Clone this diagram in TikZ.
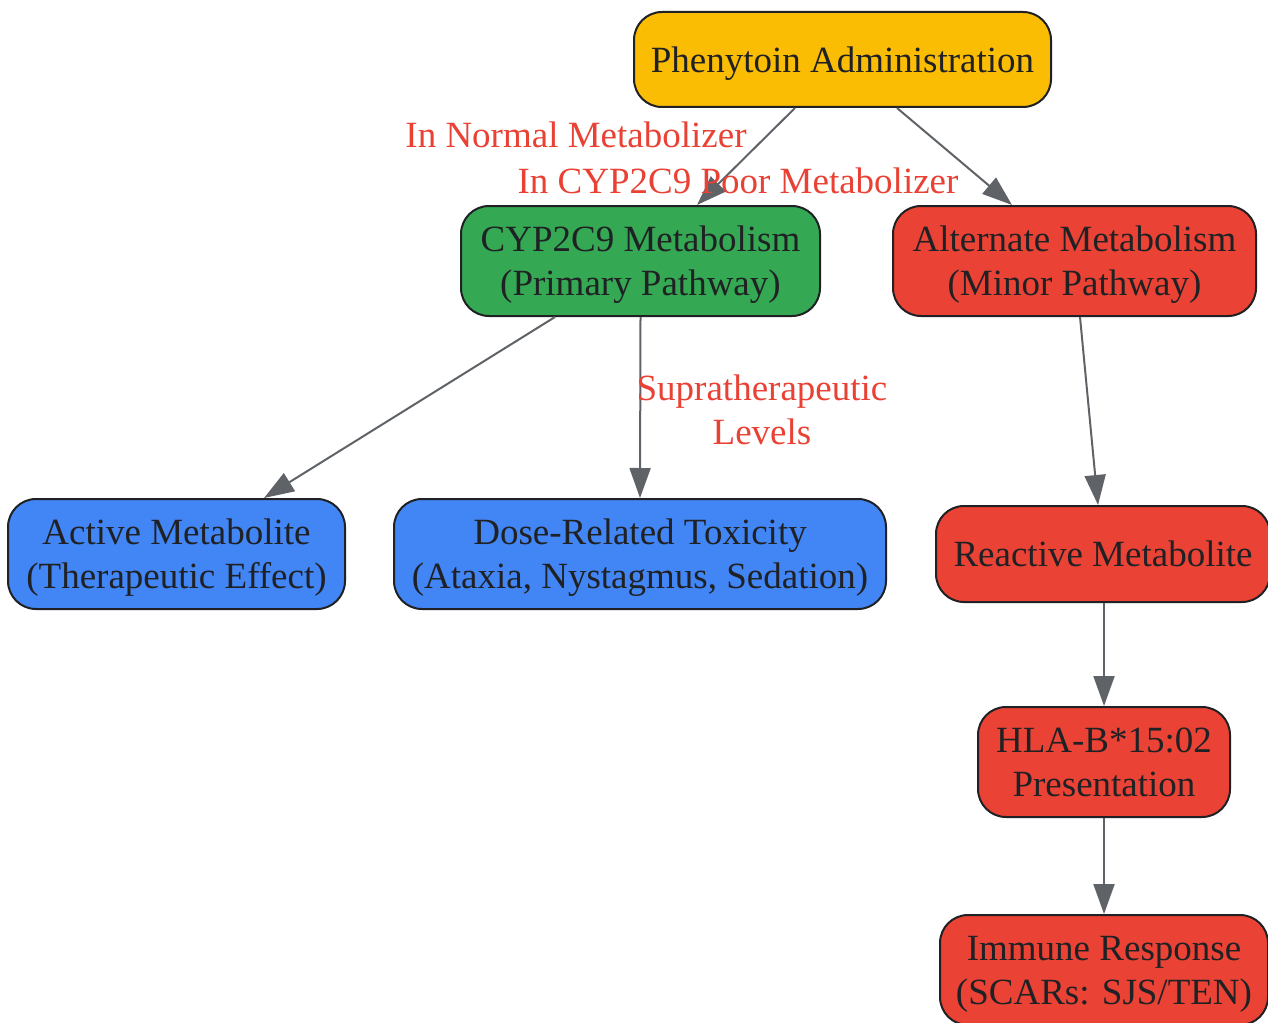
\documentclass[tikz,border=0pt]{standalone}
\usepackage{fontspec}
\setmainfont{Liberation Serif}
\usetikzlibrary{arrows.meta}
\definecolor{cyellow}{HTML}{FBBC04}
\definecolor{cgreen}{HTML}{34A853}
\definecolor{cred}{HTML}{EA4335}
\definecolor{cblue}{HTML}{4285F4}
\definecolor{cborder}{HTML}{202124}
\definecolor{carrow}{HTML}{5F6368}
\definecolor{clabel}{HTML}{E94235}
\tikzset{
  box/.style={draw=cborder, line width=2pt, rounded corners=28pt, align=center,
    text=cborder, font=\fontsize{37}{44}\selectfont, inner sep=0pt, text depth=-1pt},
  twoline/.style={box, text depth=-5pt},
  conn/.style={draw=carrow, line width=2pt, -{Triangle[length=30pt,width=21pt]}},
  elabel/.style={text=clabel, font=\fontsize{37}{44}\selectfont, align=center, inner sep=0pt}
}
\begin{document}
\begin{tikzpicture}[x=1pt,y=-1pt]
\useasboundingbox (0,0) rectangle (1268,1022);
\node[box, fill=cyellow, minimum width=417pt, minimum height=95pt] (phen) at (842.5,59.5) {Phenytoin Administration};
\node[twoline, fill=cgreen, minimum width=359pt, minimum height=110pt] (cyp) at (640.5,261) {CYP2C9 Metabolism\\(Primary Pathway)};
\node[twoline, fill=cred, minimum width=363pt, minimum height=110pt] (alt) at (1074.5,261) {Alternate Metabolism\\(Minor Pathway)};
\node[twoline, fill=cblue, minimum width=337pt, minimum height=110pt] (act) at (176.5,554) {Active Metabolite\\(Therapeutic Effect)};
\node[twoline, fill=cblue, minimum width=492pt, minimum height=110pt] (dose) at (640,554) {Dose-Related Toxicity\\(Ataxia, Nystagmus, Sedation)};
\node[box, fill=cred, minimum width=334pt, minimum height=96pt] (react) at (1103,554) {Reactive Metabolite};
\node[twoline, fill=cred, minimum width=252pt, minimum height=110pt] (hla) at (1104,762) {HLA-B*15:02\\Presentation};
\node[twoline, fill=cred, minimum width=328pt, minimum height=110pt] (imm) at (1104,970) {Immune Response\\(SCARs: SJS/TEN)};

\draw[conn] ([xshift=-47.5pt]phen.south) -- ([xshift=56.5pt]cyp.north);
\draw[conn] ([xshift=54.5pt]phen.south) -- ([xshift=-62.5pt]alt.north);
\draw[conn] ([xshift=-85.5pt]cyp.south) -- ([xshift=87.5pt]act.north);
\draw[conn] (cyp.south) -- (dose.north);
\draw[conn] ([xshift=5.5pt]alt.south) -- ([xshift=-5pt]react.north);
\draw[conn] ([xshift=1pt]react.south) -- (hla.north);
\draw[conn] (hla.south) -- (imm.north);

\node[elabel] (l1) at (576,135) {In Normal Metabolizer};
\node[elabel] (l2) at (738,181) {In CYP2C9 Poor Metabolizer};
\node[elabel] (l3) at (762,410) {Supratherapeutic\\Levels};
\end{tikzpicture}
\end{document}
